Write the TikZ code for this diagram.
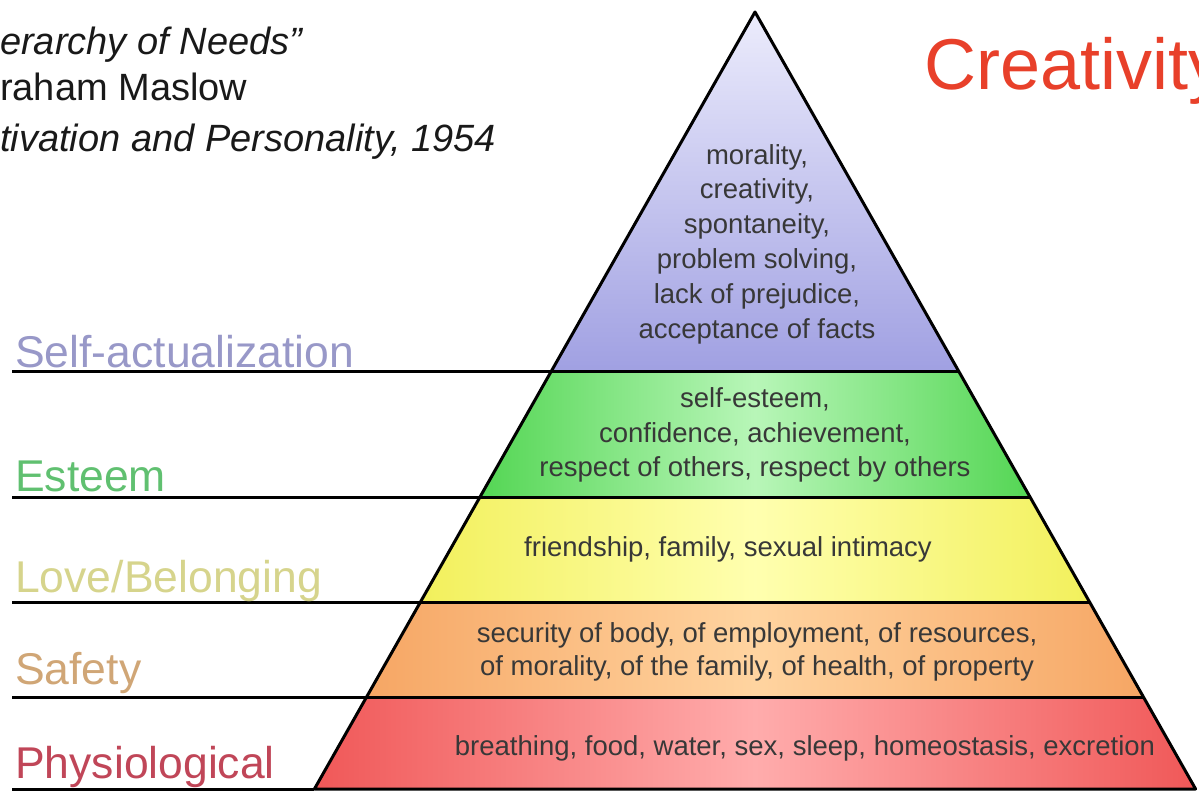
\documentclass[tikz,border=0pt]{standalone}
\usepackage{fontspec}
\setmainfont{Liberation Sans}
\usepackage{tikz}
\usetikzlibrary{calc}
% level colours
\definecolor{actlight}{RGB}{236,236,252}
\definecolor{actdark}{RGB}{160,160,226}
\definecolor{estlight}{RGB}{184,246,184}
\definecolor{estdark}{RGB}{84,214,84}
\definecolor{lovlight}{RGB}{255,255,175}
\definecolor{lovdark}{RGB}{242,240,92}
\definecolor{saflight}{RGB}{255,212,160}
\definecolor{safdark}{RGB}{246,166,100}
\definecolor{phylight}{RGB}{255,172,172}
\definecolor{phydark}{RGB}{240,88,88}
% label colours
\definecolor{actname}{RGB}{152,152,200}
\definecolor{estname}{RGB}{96,192,112}
\definecolor{lovname}{RGB}{214,212,140}
\definecolor{safname}{RGB}{208,166,118}
\definecolor{phyname}{RGB}{192,70,88}
\definecolor{creared}{RGB}{232,64,42}
\tikzset{
	levelline/.style={draw=black, line width=3pt, line join=round},
	needtext/.style={text=black!78, align=center, inner sep=0pt, font=\fontsize{27.5}{34.8}\selectfont},
	levelname/.style={anchor=base west, inner sep=0pt, font=\fontsize{44.5}{44.5}\selectfont},
	titletext/.style={anchor=base west, inner sep=0pt, text=black!90, font=\fontsize{38}{38}\selectfont}
}

\begin{document}
\begin{tikzpicture}[x=1pt,y=-1pt]
	\useasboundingbox (0,0) rectangle (1199,791);
	
	% corners of the pyramid, one pair per level boundary
	\coordinate (apex) at (755,12);
	\coordinate (l1) at (550.9,372); \coordinate (r1) at (959.1,372);
	\coordinate (l2) at (480,497);   \coordinate (r2) at (1030,497);
	\coordinate (l3) at (420.5,602); \coordinate (r3) at (1089.5,602);
	\coordinate (l4) at (366.6,697); \coordinate (r4) at (1143.4,697);
	\coordinate (l5) at (314.4,789); \coordinate (r5) at (1195.6,789);
	
	% left ends of the rules
	\coordinate (e1) at (12,372);
	\coordinate (e2) at (12,497);
	\coordinate (e3) at (12,602);
	\coordinate (e4) at (12,697);
	\coordinate (e5) at (12,789);
	
	% levels (middle color has to come last)
	\fill[top color=actlight, bottom color=actdark] (apex) -- (r1) -- (l1) -- cycle;
	\fill[left color=estdark, right color=estdark, middle color=estlight] (l1) -- (r1) -- (r2) -- (l2) -- cycle;
	\fill[left color=lovdark, right color=lovdark, middle color=lovlight] (l2) -- (r2) -- (r3) -- (l3) -- cycle;
	\fill[left color=safdark, right color=safdark, middle color=saflight] (l3) -- (r3) -- (r4) -- (l4) -- cycle;
	\fill[left color=phydark, right color=phydark, middle color=phylight] (l4) -- (r4) -- (r5) -- (l5) -- cycle;
	
	% outline and level boundaries
	\draw[levelline] (apex) -- (l5) -- (r5) -- cycle;
	\draw[levelline] (e1) -- (l1) -- (r1);
	\draw[levelline] (e2) -- (l2) -- (r2);
	\draw[levelline] (e3) -- (l3) -- (r3);
	\draw[levelline] (e4) -- (l4) -- (r4);
	\draw[levelline] (e5) -- (l5);
	
	% needs of each level
	\node[needtext] (actneeds) at (757,244) {morality,\\creativity,\\spontaneity,\\problem solving,\\lack of prejudice,\\acceptance of facts};
	\node[needtext] (estneeds) at (755,435) {self-esteem,\\confidence, achievement,\\respect of others, respect by others};
	\node[needtext] (lovneeds) at (728,549) {friendship, family, sexual intimacy};
	\node[needtext, font=\fontsize{27.5}{33}\selectfont] (safneeds) at (757,652) {security of body, of employment, of resources,\\of morality, of the family, of health, of property};
	\node[needtext] (phyneeds) at (805,748) {breathing, food, water, sex, sleep, homeostasis, excretion};
	
	% level names
	\node[levelname, text=actname] (actlabel) at (15,367) {Self-actualization};
	\node[levelname, text=estname] (estlabel) at (15,491) {Esteem};
	\node[levelname, text=lovname] (lovlabel) at (15,592) {Love/Belonging};
	\node[levelname, text=safname] (saflabel) at (15,684) {Safety};
	\node[levelname, text=phyname] (phylabel) at (15,778) {Physiological};
	
	% title
	\node[titletext] (title1) at (0,55) {\itshape erarchy of Needs"};
	\node[titletext] (title2) at (0,101) {raham Maslow};
	\node[titletext] (title3) at (0,152) {\itshape tivation and Personality, 1954};
	
	\node[anchor=base west, inner sep=0pt, text=creared, font=\fontsize{72}{72}\selectfont] (crea) at (924,90) {Creativity};
\end{tikzpicture}
\end{document}
